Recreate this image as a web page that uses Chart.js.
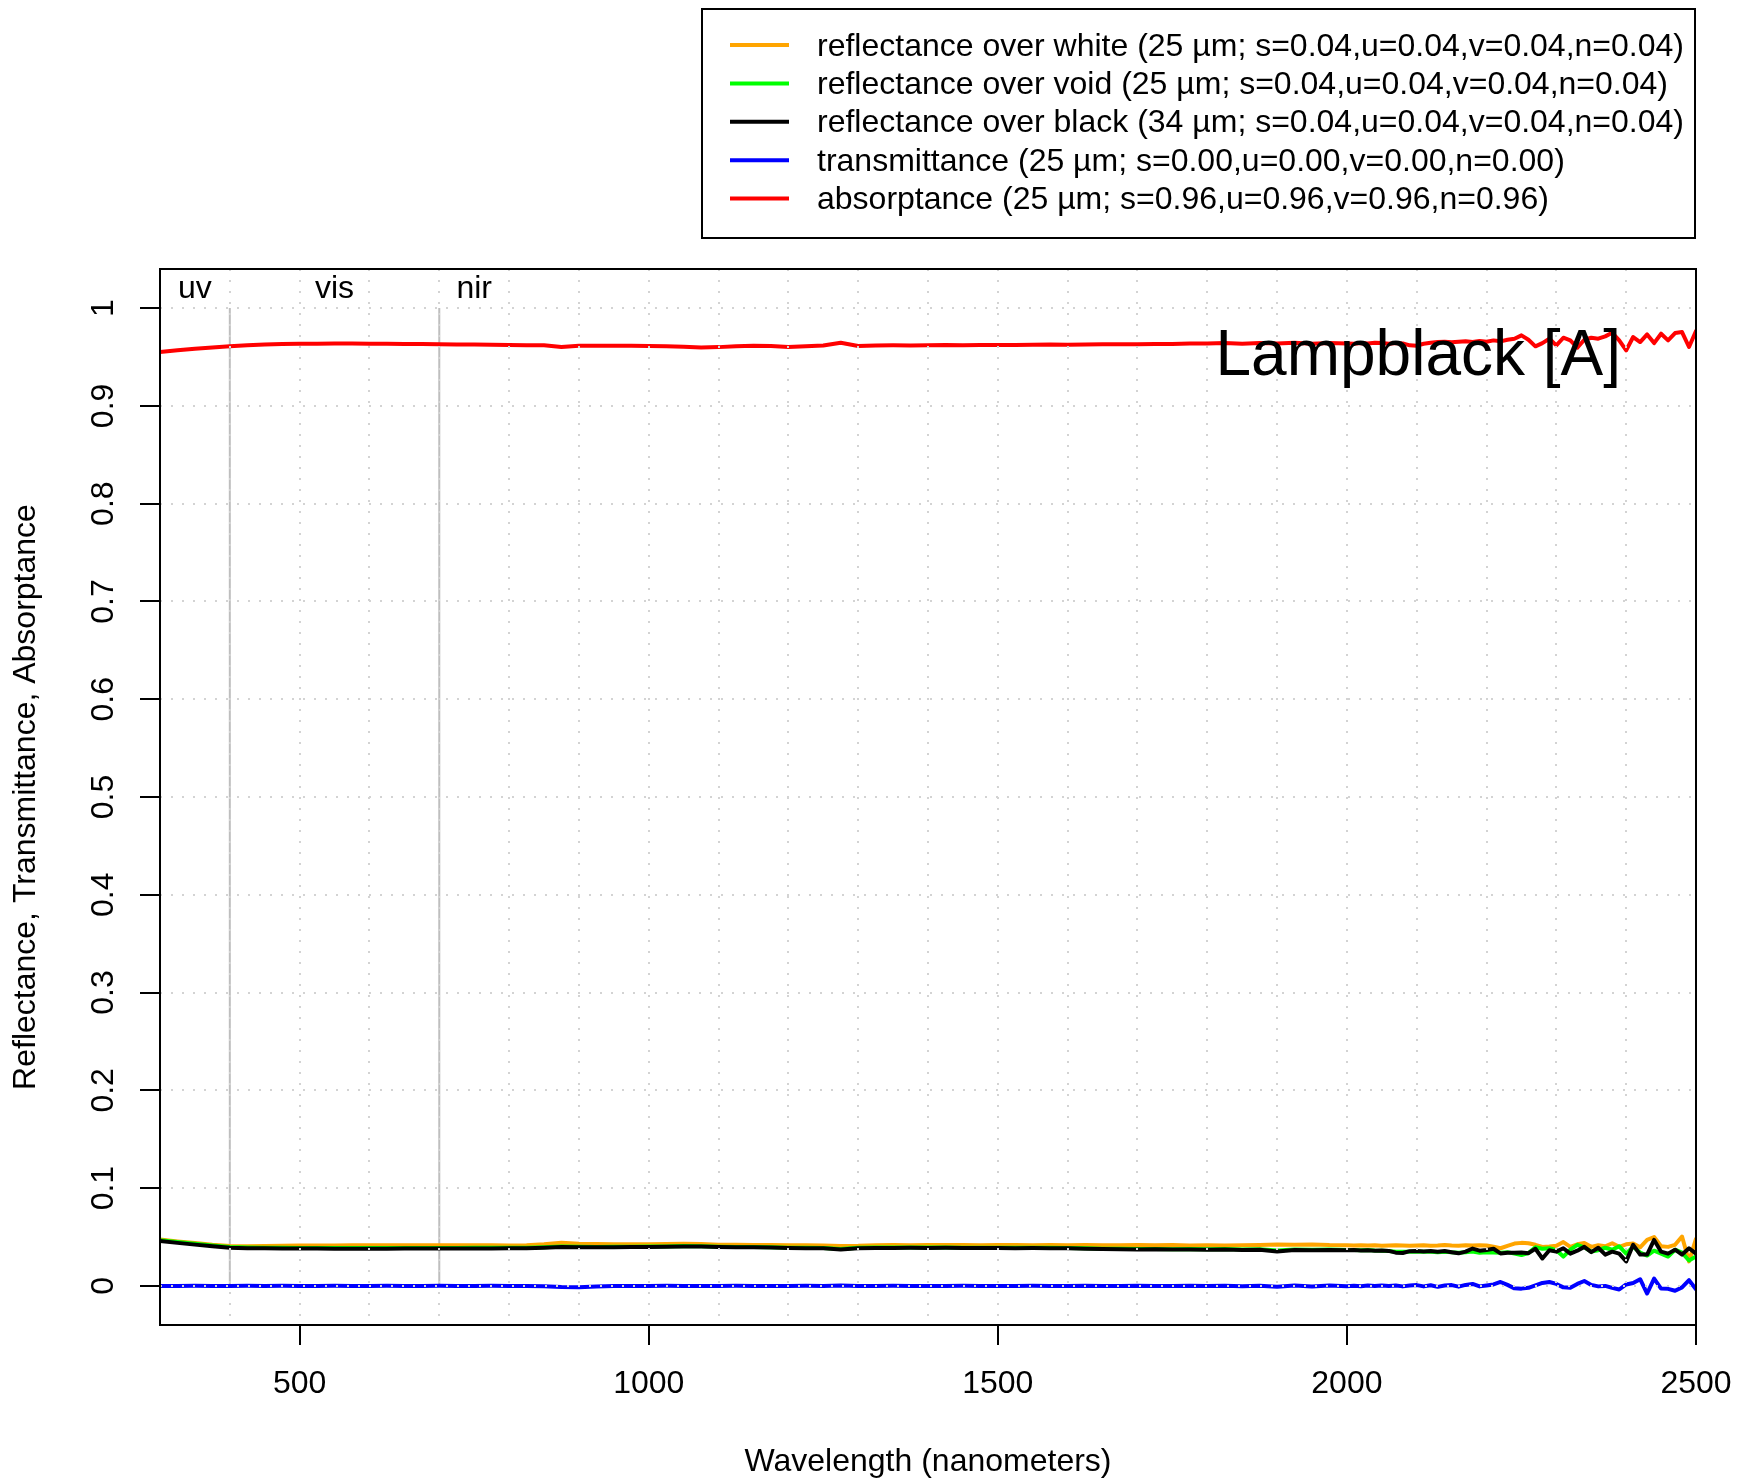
<!DOCTYPE html>
<html>
<head>
<meta charset="utf-8">
<title>Lampblack [A]</title>
<script src="https://cdn.jsdelivr.net/npm/chart.js@4/dist/chart.umd.min.js"></script>
<style>
  html, body { margin: 0; padding: 0; background: #ffffff; }
  #wrap { width: 1741px; height: 1479px; position: relative; }
</style>
</head>
<body>
<div id="wrap"><canvas id="spectra" width="1741" height="1479"></canvas></div>
<script>
// Wavelength samples (nm): 25 nm steps up to 2000, 10 nm steps in the noisy tail
const wavelengths = [
  300, 325, 350, 375, 400, 425, 450, 475, 500, 525,
  550, 575, 600, 625, 650, 675, 700, 725, 750, 775,
  800, 825, 850, 875, 900, 925, 950, 975, 1000, 1025,
  1050, 1075, 1100, 1125, 1150, 1175, 1200, 1225, 1250, 1275,
  1300, 1325, 1350, 1375, 1400, 1425, 1450, 1475, 1500, 1525,
  1550, 1575, 1600, 1625, 1650, 1675, 1700, 1725, 1750, 1775,
  1800, 1825, 1850, 1875, 1900, 1925, 1950, 1975, 2000,
  2010, 2020, 2030, 2040, 2050, 2060, 2070, 2080, 2090, 2100,
  2110, 2120, 2130, 2140, 2150, 2160, 2170, 2180, 2190, 2200,
  2210, 2220, 2230, 2240, 2250, 2260, 2270, 2280, 2290, 2300,
  2310, 2320, 2330, 2340, 2350, 2360, 2370, 2380, 2390, 2400,
  2410, 2420, 2430, 2440, 2450, 2460, 2470, 2480, 2490, 2500
];

const reflectanceOverWhite = [
  .0474, .0455, .0438, .0421, .0408, .0405, .0407, .0410, .0412, .0413,
  .0414, .0415, .0415, .0416, .0416, .0416, .0416, .0415, .0415, .0415,
  .0414, .0416, .0426, .0440, .0431, .0428, .0426, .0425, .0426, .0429,
  .0431, .0428, .0422, .0421, .0419, .0418, .0416, .0415, .0413, .0409,
  .0410, .0416, .0418, .0416, .0418, .0417, .0418, .0416, .0418, .0417,
  .0415, .0417, .0416, .0417, .0415, .0416, .0418, .0415, .0417, .0414,
  .0415, .0413, .0416, .0419, .0423, .0420, .0424, .0418, .0416,
  .0413, .0416, .0413, .0415, .0411, .0413, .0416, .0413, .0410, .0413,
  .0416, .0411, .0413, .0418, .0413, .0411, .0415, .0413, .0416, .0413,
  .0400, .0385, .0410, .0433, .0440, .0436, .0420, .0399, .0402, .0410,
  .0448, .0399, .0425, .0438, .0399, .0415, .0405, .0436, .0399, .0425,
  .0433, .0395, .0470, .0500, .0405, .0399, .0420, .0505, .0250, .0480
];

const reflectanceOverVoid = [
  .0466, .0448, .0430, .0413, .0397, .0392, .0390, .0389, .0388, .0388,
  .0387, .0387, .0387, .0387, .0388, .0388, .0388, .0388, .0389, .0389,
  .0390, .0391, .0395, .0402, .0400, .0399, .0400, .0401, .0402, .0404,
  .0407, .0405, .0401, .0399, .0397, .0395, .0391, .0389, .0387, .0377,
  .0389, .0392, .0392, .0393, .0392, .0392, .0391, .0391, .0391, .0390,
  .0390, .0389, .0388, .0385, .0381, .0379, .0377, .0378, .0375, .0377,
  .0374, .0376, .0373, .0375, .0362, .0372, .0370, .0372, .0368,
  .0367, .0365, .0366, .0362, .0360, .0356, .0350, .0348, .0350, .0352,
  .0350, .0348, .0345, .0350, .0343, .0340, .0345, .0352, .0338, .0345,
  .0342, .0340, .0345, .0330, .0315, .0335, .0395, .0380, .0385, .0365,
  .0300, .0370, .0420, .0395, .0350, .0365, .0390, .0370, .0405, .0330,
  .0400, .0340, .0310, .0360, .0330, .0300, .0370, .0340, .0260, .0300
];

const reflectanceOverBlack = [
  .0460, .0440, .0422, .0405, .0391, .0386, .0384, .0383, .0382, .0382,
  .0381, .0381, .0381, .0381, .0382, .0382, .0382, .0382, .0383, .0383,
  .0384, .0386, .0391, .0398, .0396, .0395, .0396, .0397, .0398, .0401,
  .0404, .0402, .0398, .0396, .0394, .0392, .0388, .0386, .0384, .0372,
  .0385, .0388, .0388, .0389, .0388, .0389, .0388, .0387, .0388, .0386,
  .0387, .0385, .0385, .0381, .0377, .0375, .0373, .0374, .0371, .0372,
  .0369, .0371, .0368, .0370, .0352, .0367, .0365, .0367, .0365,
  .0366, .0363, .0365, .0360, .0362, .0358, .0340, .0336, .0355, .0358,
  .0352, .0356, .0350, .0357, .0345, .0333, .0350, .0382, .0360, .0368,
  .0380, .0332, .0340, .0338, .0341, .0335, .0380, .0280, .0365, .0350,
  .0385, .0330, .0360, .0399, .0345, .0390, .0320, .0350, .0330, .0250,
  .0420, .0320, .0320, .0470, .0350, .0330, .0370, .0320, .0385, .0330
];

const transmittance = [
  0, 0, .0001, 0, 0, .0001, 0, .0001, 0, 0,
  .0001, 0, 0, .0001, 0, 0, .0001, 0, 0, .0001,
  0, 0, -.0004, -.0012, -.0014, -.0006, -.0002, 0, -.0001, .0001,
  0, -.0002, 0, .0001, 0, -.0001, 0, .0001, 0, .0003,
  -.0002, 0, .0001, 0, -.0001, 0, .0001, 0, -.0001, 0,
  .0001, 0, -.0002, .0001, 0, -.0001, .0002, -.0002, 0, .0002,
  -.0002, .0001, -.0003, .0002, -.0008, .0004, -.0005, .0003, -.0003,
  .0002, -.0003, .0003, -.0002, .0004, -.0002, .0003, -.0005, .0004, .0008,
  -.0005, .0006, -.0010, .0004, .0008, -.0008, .0010, .0020, -.0005, .0005,
  .0015, .0040, .0010, -.0025, -.0028, -.0020, .0005, .0030, .0040, .0020,
  -.0015, -.0020, .0020, .0050, .0010, -.0005, 0, -.0020, -.0037, .0015,
  .0030, .0068, -.0078, .0075, -.0027, -.0030, -.0050, -.0015, .0058, -.0035
];

const absorptance = [
  .9550, .9568, .9585, .9598, .9611, .9620, .9628, .9632, .9636, .9636,
  .9637, .9637, .9636, .9635, .9634, .9632, .9630, .9629, .9627, .9625,
  .9622, .9620, .9619, .9603, .9614, .9616, .9614, .9614, .9612, .9610,
  .9605, .9598, .9601, .9611, .9614, .9612, .9602, .9611, .9618, .9645,
  .9612, .9617, .9619, .9618, .9620, .9622, .9620, .9622, .9624, .9622,
  .9625, .9627, .9625, .9628, .9630, .9631, .9630, .9634, .9633, .9637,
  .9639, .9642, .9636, .9642, .9639, .9646, .9636, .9642, .9639,
  .9636, .9642, .9639, .9646, .9642, .9636, .9642, .9639, .9619, .9616,
  .9636, .9646, .9653, .9656, .9650, .9656, .9660, .9653, .9663, .9656,
  .9670, .9660, .9677, .9687, .9721, .9677, .9609, .9642, .9687, .9619,
  .9697, .9670, .9595, .9677, .9697, .9687, .9711, .9748, .9670, .9568,
  .9704, .9653, .9731, .9642, .9738, .9670, .9745, .9755, .9602, .9765
];

const seriesLabels = [
  'reflectance over white (25 µm; s=0.04,u=0.04,v=0.04,n=0.04)',
  'reflectance over void (25 µm; s=0.04,u=0.04,v=0.04,n=0.04)',
  'reflectance over black (34 µm; s=0.04,u=0.04,v=0.04,n=0.04)',
  'transmittance (25 µm; s=0.00,u=0.00,v=0.00,n=0.00)',
  'absorptance (25 µm; s=0.96,u=0.96,v=0.96,n=0.96)'
];
const seriesColors = ['#FFA500', '#00FF00', '#000000', '#0000FF', '#FF0000'];

const xTickValues = [500, 1000, 1500, 2000, 2500];
const xTickLabels = ['500', '1000', '1500', '2000', '2500'];
const yTickValues = [0, 0.1, 0.2, 0.3, 0.4, 0.5, 0.6, 0.7, 0.8, 0.9, 1];
const yTickLabels = ['0', '0.1', '0.2', '0.3', '0.4', '0.5', '0.6', '0.7', '0.8', '0.9', '1'];

const regionNames = ['uv', 'vis', 'nir'];
const regionCenters = [350, 550, 750];
const regionBounds = [400, 700];

const sampleName = 'Lampblack [A]';
const xTitle = 'Wavelength (nanometers)';
const yTitle = 'Reflectance, Transmittance, Absorptance';

const FONT = '"Liberation Sans", Arial, Helvetica, sans-serif';

function pairs(values) {
  return wavelengths.map((w, i) => ({ x: w, y: values[i] }));
}

const allSeries = [reflectanceOverWhite, reflectanceOverVoid, reflectanceOverBlack, transmittance, absorptance];
// later series are painted on top of earlier ones
const datasets = allSeries.map((vals, i) => ({
  label: seriesLabels[i],
  data: pairs(vals),
  borderColor: seriesColors[i],
  backgroundColor: seriesColors[i],
  borderWidth: 4,
  pointRadius: 0,
  tension: 0,
  borderJoinStyle: 'round',
  borderCapStyle: 'round',
  order: 10 - i
}));
// band separators at the uv/vis and vis/nir boundaries
regionBounds.forEach(b => {
  datasets.push({
    label: 'boundary ' + b,
    data: [{ x: b, y: 0 }, { x: b, y: 1 }],
    borderColor: '#bebebe',
    borderWidth: 2,
    pointRadius: 0,
    order: 20
  });
});

const decorations = {
  id: 'decorations',
  afterDraw(chart) {
    const { ctx, chartArea: a, scales: { x, y } } = chart;
    ctx.save();

    // frame around the plotting region
    ctx.strokeStyle = '#000';
    ctx.lineWidth = 2;
    ctx.strokeRect(a.left, a.top, a.right - a.left, a.bottom - a.top);

    ctx.fillStyle = '#000';
    ctx.font = '32px ' + FONT;

    // y tick labels, written upwards like the axis title
    ctx.textAlign = 'center';
    ctx.textBaseline = 'alphabetic';
    yTickValues.forEach((v, i) => {
      ctx.save();
      ctx.translate(a.left - 47, y.getPixelForValue(v));
      ctx.rotate(-Math.PI / 2);
      ctx.fillText(yTickLabels[i], 0, 0);
      ctx.restore();
    });

    // axis titles
    ctx.fillText(xTitle, (a.left + a.right) / 2, 1471);
    ctx.save();
    ctx.translate(35, (a.top + a.bottom) / 2);
    ctx.rotate(-Math.PI / 2);
    ctx.fillText(yTitle, 0, 0);
    ctx.restore();

    // spectral region names
    regionNames.forEach((n, i) => {
      ctx.fillText(n, x.getPixelForValue(regionCenters[i]), a.top + 28.5);
    });

    // sample name
    ctx.font = '64px ' + FONT;
    ctx.textAlign = 'right';
    ctx.fillText(sampleName, a.right - 75, 375);

    // legend
    const lx = 702, ly = 9, lw = 993, lh = 229;
    ctx.lineWidth = 2;
    ctx.strokeStyle = '#000';
    ctx.strokeRect(lx, ly, lw, lh);
    ctx.font = '32px ' + FONT;
    ctx.textAlign = 'left';
    seriesLabels.forEach((lab, i) => {
      const cy = 45 + i * 38.4;
      ctx.strokeStyle = seriesColors[i];
      ctx.lineWidth = 4;
      ctx.beginPath();
      ctx.moveTo(730, cy);
      ctx.lineTo(789, cy);
      ctx.stroke();
      ctx.fillStyle = '#000';
      ctx.fillText(lab, 817, cy + 10.5);
    });

    ctx.restore();
  }
};

new Chart(document.getElementById('spectra'), {
  type: 'line',
  data: { datasets },
  options: {
    responsive: false,
    animation: false,
    devicePixelRatio: 1,
    layout: { padding: { top: 269, right: 45, bottom: 0, left: 0 } },
    plugins: { legend: { display: false }, tooltip: { enabled: false } },
    scales: {
      x: {
        type: 'linear',
        min: 300,
        max: 2500,
        afterFit: s => {
          s.height = 154;
          s.paddingLeft = 0;
          s.paddingRight = 0;
        },
        ticks: {
          stepSize: 100,
          autoSkip: false,
          maxRotation: 0,
          minRotation: 0,
          padding: 20,
          color: '#000',
          font: { family: FONT, size: 32 },
          callback: v => {
            const k = xTickValues.indexOf(v);
            return k >= 0 ? xTickLabels[k] : '';
          }
        },
        grid: {
          z: 1,
          color: '#d3d3d3',
          lineWidth: 2,
          drawTicks: true,
          tickLength: 20,
          tickWidth: 2,
          tickBorderDash: [],
          tickColor: c => (c.tick && xTickValues.indexOf(c.tick.value) >= 0) ? '#000' : 'rgba(0,0,0,0)'
        },
        border: { display: false, dash: [2, 9] }
      },
      y: {
        type: 'linear',
        min: -0.04,
        max: 1.04,
        afterFit: s => {
          s.width = 160;
          s.paddingTop = 0;
          s.paddingBottom = 0;
        },
        ticks: { stepSize: 0.1, includeBounds: false, display: false },
        grid: {
          z: 1,
          color: '#d3d3d3',
          lineWidth: 2,
          drawTicks: true,
          tickLength: 20,
          tickWidth: 2,
          tickBorderDash: [],
          tickColor: '#000'
        },
        border: { display: false, dash: [2, 9] }
      }
    }
  },
  plugins: [decorations]
});
</script>
</body>
</html>
